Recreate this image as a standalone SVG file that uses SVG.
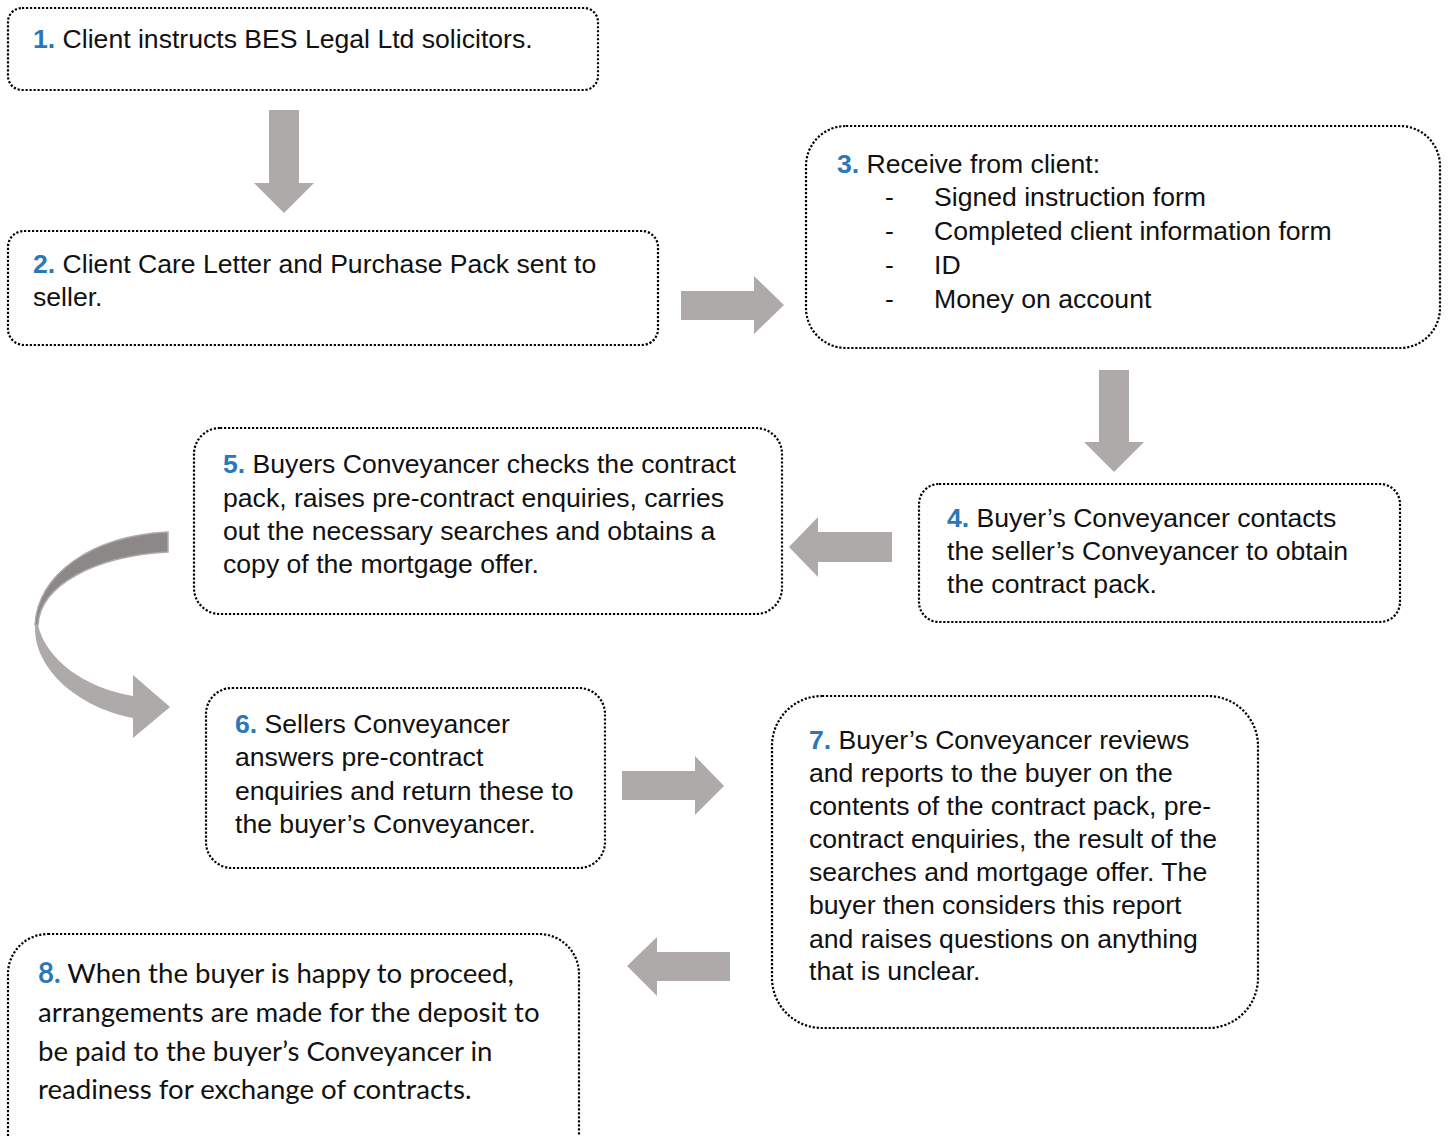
<svg xmlns="http://www.w3.org/2000/svg" width="1449" height="1136" viewBox="0 0 1449 1136">
<style>
.box{fill:#fff;stroke:#000;stroke-width:2.2;stroke-dasharray:2.2 1.8}
.t{font-family:"Liberation Sans",Arial,sans-serif;font-size:26.6px;fill:#111}
.c{font-family:Lato,"Open Sans",sans-serif;font-size:27.6px;fill:#111}
.n{fill:#2a78b8;font-weight:bold}
.ar{fill:#aeaaa9}
</style>
<rect width="1449" height="1136" fill="#fff"/>
<g id="connectors">
<polygon class="ar" points="269,110 299,110 299,183 314,183 284,213 254,183 269,183"/>
<polygon class="ar" points="681,291 754,291 754,276 784,305 754,334 754,320 681,320"/>
<polygon class="ar" points="1099,370 1129,370 1129,442 1144,442 1114,472 1084,442 1099,442"/>
<polygon class="ar" points="892,532 818,532 818,517 789,547 818,577 818,562 892,562"/>
<path class="ar" d="M35,625 C33,670 80,708 133,718 L133,696 C85,688 46,660 38,625 Z"/>
<path d="M168,532 C90,536 38,575 35,625 L38,625 C40,585 95,556 168,552 Z" fill="#8b8887" stroke="#aeaaa9" stroke-width="1.5"/>
<polygon class="ar" points="133,675 170,707 133,738"/>
<polygon class="ar" points="622,771 695,771 695,756 724,786 695,815 695,800 622,800"/>
<polygon class="ar" points="730,952 657,952 657,937 627,966 657,996 657,981 730,981"/>
</g>
<g id="node1">
<rect class="box" x="8" y="8" width="590" height="82" rx="14"/>
<text class="t" x="33" y="48"><tspan class="n">1.</tspan> Client instructs BES Legal Ltd solicitors.</text>
</g>
<g id="node2">
<rect class="box" x="8" y="231" width="650" height="114" rx="16"/>
<text class="t" x="33" y="273"><tspan class="n">2.</tspan> Client Care Letter and Purchase Pack sent to</text>
<text class="t" x="33" y="306">seller.</text>
</g>
<g id="node3">
<rect class="box" x="806" y="126" width="634" height="222" rx="40"/>
<text class="t" x="837" y="173"><tspan class="n">3.</tspan> Receive from client:</text>
<text class="t" x="885" y="206">-</text><text class="t" x="934" y="206">Signed instruction form</text>
<text class="t" x="885" y="240">-</text><text class="t" x="934" y="240">Completed client information form</text>
<text class="t" x="885" y="274">-</text><text class="t" x="934" y="274">ID</text>
<text class="t" x="885" y="308">-</text><text class="t" x="934" y="308">Money on account</text>
</g>
<g id="node4">
<rect class="box" x="919" y="484" width="481" height="138" rx="20"/>
<text class="t" x="947" y="527"><tspan class="n">4.</tspan> Buyer’s Conveyancer contacts</text>
<text class="t" x="947" y="560">the seller’s Conveyancer to obtain</text>
<text class="t" x="947" y="593">the contract pack.</text>
</g>
<g id="node5">
<rect class="box" x="194" y="428" width="588" height="186" rx="26"/>
<text class="t" x="223" y="473"><tspan class="n">5.</tspan> Buyers Conveyancer checks the contract</text>
<text class="t" x="223" y="507">pack, raises pre-contract enquiries, carries</text>
<text class="t" x="223" y="540">out the necessary searches and obtains a</text>
<text class="t" x="223" y="573">copy of the mortgage offer.</text>
</g>
<g id="node6">
<rect class="box" x="206" y="688" width="399" height="180" rx="26"/>
<text class="t" x="235" y="733"><tspan class="n">6.</tspan> Sellers Conveyancer</text>
<text class="t" x="235" y="766">answers pre-contract</text>
<text class="t" x="235" y="800">enquiries and return these to</text>
<text class="t" x="235" y="833">the buyer’s Conveyancer.</text>
</g>
<g id="node7">
<rect class="box" x="772" y="696" width="486" height="332" rx="50"/>
<text class="t" x="809" y="749"><tspan class="n">7.</tspan> Buyer’s Conveyancer reviews</text>
<text class="t" x="809" y="782">and reports to the buyer on the</text>
<text class="t" x="809" y="815">contents of the contract pack, pre-</text>
<text class="t" x="809" y="848">contract enquiries, the result of the</text>
<text class="t" x="809" y="881">searches and mortgage offer. The</text>
<text class="t" x="809" y="914">buyer then considers this report</text>
<text class="t" x="809" y="948">and raises questions on anything</text>
<text class="t" x="809" y="980">that is unclear.</text>
</g>
<g id="node8">
<rect class="box" x="8" y="934" width="571" height="240" rx="40"/>
<text class="c" x="38" y="983"><tspan class="n">8.</tspan> When the buyer is happy to proceed,</text>
<text class="c" x="38" y="1022">arrangements are made for the deposit to</text>
<text class="c" x="38" y="1061">be paid to the buyer’s Conveyancer in</text>
<text class="c" x="38" y="1099">readiness for exchange of contracts.</text>
</g>
</svg>
